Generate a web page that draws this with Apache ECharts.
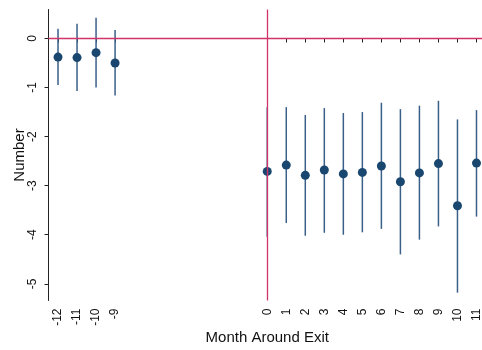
<!DOCTYPE html>
<html>
<head>
<meta charset="utf-8">
<script src="https://cdn.jsdelivr.net/npm/echarts@6/dist/echarts.min.js"></script>
<style>html,body{margin:0;padding:0;background:#fff;}#c{width:482px;height:350px;}</style>
</head>
<body>
<div id="c"></div>
<script>
// Data
var months    = [-12, -11, -10, -9, 0, 1, 2, 3, 4, 5, 6, 7, 8, 9, 10, 11];
var estimates = [-0.38, -0.39, -0.29, -0.50, -2.71, -2.58, -2.79, -2.68, -2.76, -2.73, -2.60, -2.92, -2.74, -2.55, -3.41, -2.54];
var lower     = [-0.95, -1.07, -1.00, -1.16, -4.04, -3.76, -4.02, -3.96, -4.00, -3.95, -3.88, -4.40, -4.10, -3.83, -5.18, -3.63];
var upper     = [0.20, 0.30, 0.42, 0.17, -1.40, -1.40, -1.56, -1.42, -1.52, -1.50, -1.31, -1.44, -1.37, -1.27, -1.65, -1.46];
var yTicks    = [0, -1, -2, -3, -4, -5];
var gapSlots  = 7; // empty category slots between -9 and 0

// Build category axis (pre-period, gap, post-period)
var categories = [];
months.forEach(function (m, i) {
  if (m === 0) { for (var g = 0; g < gapSlots; g++) categories.push(' '.repeat(g + 1)); }
  categories.push(String(m));
});
function catIndex(m) { return categories.indexOf(String(m)); }

var pointData = months.map(function (m, i) { return [catIndex(m), estimates[i]]; });
var barData = months.map(function (m, i) { return [catIndex(m), lower[i], upper[i]]; });
var isLabel = function (idx, val) { return String(val).trim() !== ''; };

var chart = echarts.init(document.getElementById('c'));
chart.setOption({
  animation: false,
  backgroundColor: '#ffffff',
  grid: { left: 48.5, right: -4, top: 9.5, bottom: 49.5, containLabel: false, outerBoundsMode: 'none' },
  xAxis: {
    type: 'category',
    data: categories,
    boundaryGap: true,
    name: 'Month Around Exit',
    nameLocation: 'middle',
    nameGap: 30,
    nameMoveOverlap: false,
    nameTextStyle: { fontFamily: 'Liberation Sans, Arial, sans-serif', fontSize: 15, color: '#111' },
    axisLine: { lineStyle: { color: '#222', width: 1 } },
    axisTick: { show: true, alignWithLabel: true, interval: isLabel, length: 4, lineStyle: { color: '#222' } },
    axisLabel: { interval: isLabel, rotate: 90, margin: 8, fontFamily: 'Liberation Sans, Arial, sans-serif', fontSize: 12, color: '#111' },
    splitLine: { show: false }
  },
  yAxis: {
    type: 'value',
    min: -5.34,
    max: 0.59,
    name: 'Number',
    nameLocation: 'middle',
    nameGap: 21,
    nameMoveOverlap: false,
    nameTextStyle: { fontFamily: 'Liberation Sans, Arial, sans-serif', fontSize: 15, color: '#111' },
    axisLine: { show: true, lineStyle: { color: '#222', width: 1 } },
    axisTick: { show: true, length: 4, customValues: yTicks, lineStyle: { color: '#222' } },
    axisLabel: { customValues: yTicks, rotate: 90, margin: 10, fontFamily: 'Liberation Sans, Arial, sans-serif', fontSize: 12, color: '#111' },
    splitLine: { show: false }
  },
  series: [
    {
      type: 'line',
      data: [],
      silent: true,
      markLine: {
        symbol: 'none',
        silent: true,
        label: { show: false },
        lineStyle: { color: '#d1346a', width: 1.3, type: 'solid' },
        data: [{ yAxis: 0 }, { xAxis: catIndex(0) }]
      },
      z: 1
    },
    {
      type: 'custom',
      data: barData,
      z: 2,
      renderItem: function (params, api) {
        var x = api.value(0);
        var p1 = api.coord([x, api.value(1)]);
        var p2 = api.coord([x, api.value(2)]);
        return {
          type: 'line',
          shape: { x1: p1[0], y1: p1[1], x2: p2[0], y2: p2[1] },
          style: { stroke: '#3a5f88', lineWidth: 1.5 }
        };
      }
    },
    {
      type: 'scatter',
      data: pointData,
      symbol: 'circle',
      symbolSize: 9,
      itemStyle: { color: '#1a476f', opacity: 1 },
      z: 3
    }
  ]
});
</script>
</body>
</html>
